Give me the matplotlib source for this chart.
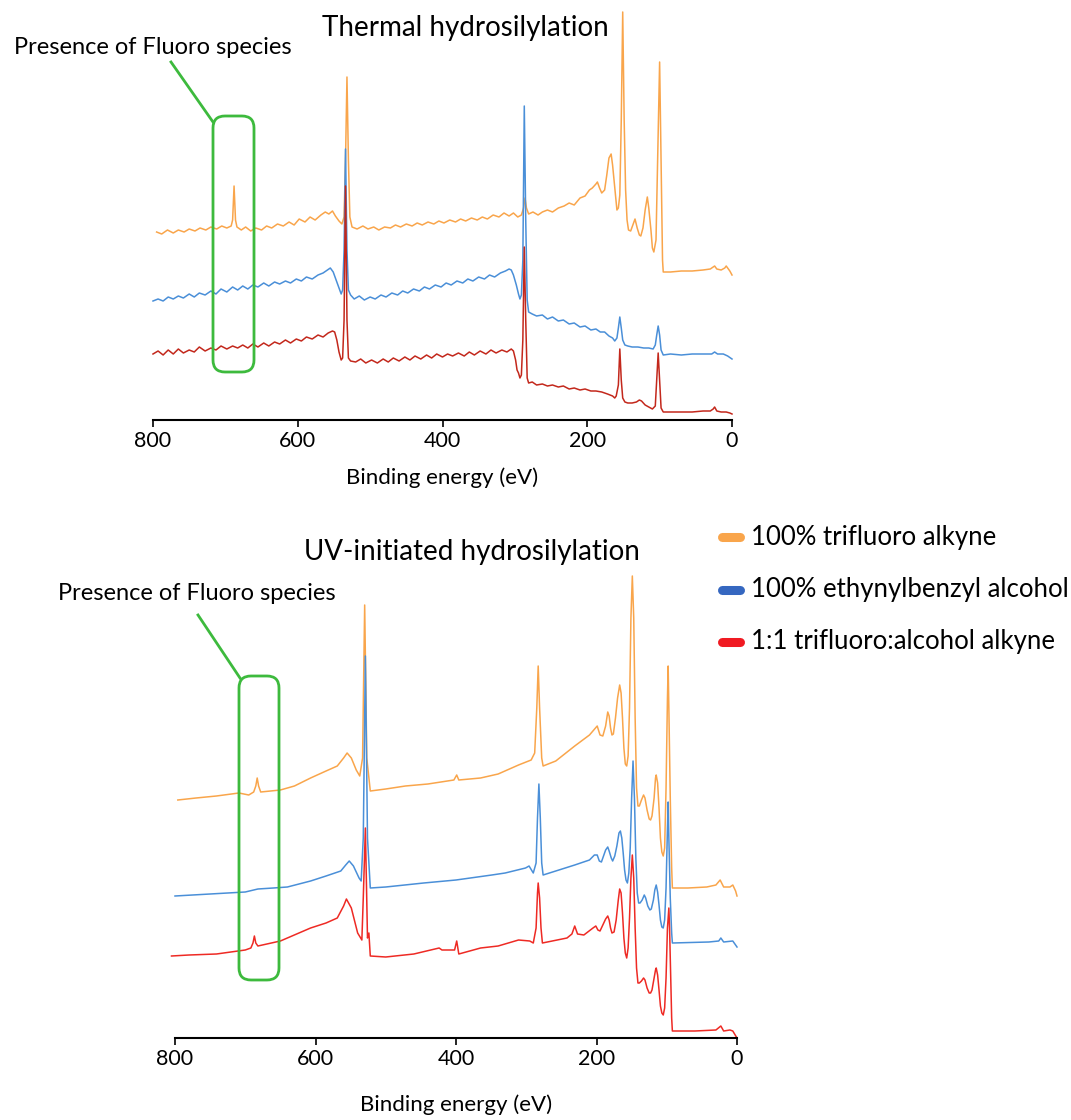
import numpy as np
import matplotlib
matplotlib.use("Agg")
import matplotlib.pyplot as plt
from matplotlib.patches import FancyBboxPatch

plt.rcParams["font.family"] = ["Lato", "DejaVu Sans"]

# ── Spectra: (binding energy [eV], intensity [a.u.]) ──────────────────────────────
# Thermal hydrosilylation
thermal_tfa = [
    (795, 188), (788, 186), (780, 190), (772, 187), (765, 190), (757, 188), (750, 191),
    (742, 189), (735, 192), (727, 190), (720, 193), (712, 191), (705, 194), (698, 192),
    (692, 194), (690, 200), (688, 234), (686, 200), (684, 193), (678, 190), (672, 193),
    (665, 189), (658, 192), (650, 190), (643, 194), (636, 192), (628, 196), (620, 194),
    (612, 198), (605, 195), (598, 201), (590, 198), (583, 203), (576, 200), (568, 205),
    (562, 208), (557, 206), (552, 209), (548, 204), (543, 199), (539, 196), (536, 203),
    (534, 260), (532, 343), (530, 260), (528, 203), (525, 193), (518, 191), (510, 194),
    (503, 191), (495, 193), (488, 190), (480, 193), (472, 192), (465, 195), (458, 193),
    (450, 196), (442, 194), (435, 197), (428, 195), (420, 198), (412, 196), (405, 199),
    (398, 197), (390, 200), (382, 198), (375, 201), (368, 199), (360, 202), (352, 200),
    (345, 203), (338, 201), (330, 205), (322, 203), (315, 207), (308, 204), (302, 207),
    (296, 203), (291, 205), (288, 212), (286, 222), (284, 212), (281, 206), (275, 208),
    (268, 205), (262, 208), (255, 210), (248, 208), (240, 212), (232, 214), (225, 217),
    (218, 215), (210, 222), (203, 224), (197, 230), (193, 232), (188, 236), (186, 238),
    (183, 232), (180, 227), (176, 230), (173, 245), (170, 262), (167, 266), (165, 255),
    (162, 232), (159, 210), (157, 212), (155, 225), (153, 300), (151, 408), (149, 300),
    (147, 230), (145, 200), (143, 190), (140, 189), (137, 195), (134, 201), (131, 192),
    (128, 185), (126, 184), (123, 192), (120, 210), (117, 223), (115, 212), (112, 190),
    (110, 172), (108, 168), (105, 180), (103, 250), (100, 358), (98, 260), (96, 160),
    (95, 148), (85, 148), (70, 149), (55, 149), (40, 150), (30, 151), (26, 153),
    (24, 154), (21, 151), (15, 150), (10, 152), (8, 154), (5, 151), (3, 149), (0, 145),
]
thermal_alc = [
    (800, 119), (793, 121), (786, 119), (779, 123), (772, 121), (765, 124), (758, 122),
    (750, 126), (743, 123), (736, 127), (728, 125), (720, 129), (713, 126), (706, 131),
    (698, 128), (690, 133), (683, 130), (676, 134), (669, 131), (662, 135), (655, 133),
    (647, 137), (640, 134), (632, 138), (625, 136), (617, 139), (610, 137), (602, 141),
    (595, 139), (588, 143), (580, 141), (572, 145), (565, 147), (559, 150), (555, 152),
    (551, 148), (547, 140), (543, 132), (540, 126), (538, 130), (536, 170), (534, 271),
    (532, 170), (530, 130), (527, 125), (522, 121), (515, 124), (508, 120), (500, 123),
    (493, 121), (485, 125), (478, 123), (470, 127), (462, 125), (455, 129), (448, 127),
    (440, 131), (432, 129), (425, 133), (418, 131), (410, 135), (402, 133), (395, 137),
    (388, 135), (380, 139), (372, 137), (365, 141), (358, 139), (350, 143), (342, 141),
    (335, 145), (328, 143), (320, 147), (313, 149), (308, 151), (305, 150), (302, 145),
    (298, 135), (295, 126), (293, 121), (291, 125), (289, 160), (287, 314), (285, 200),
    (283, 120), (281, 108), (276, 106), (270, 104), (262, 105), (255, 101), (248, 103),
    (240, 99), (233, 100), (225, 96), (218, 97), (210, 93), (203, 94), (195, 90),
    (188, 91), (182, 88), (176, 88), (170, 84), (165, 82), (162, 79), (159, 82),
    (157, 92), (155, 103), (153, 92), (151, 80), (148, 75), (144, 74), (138, 73),
    (130, 73), (122, 72), (115, 72), (109, 71), (106, 75), (104, 85), (102, 94),
    (100, 85), (98, 70), (95, 65), (85, 66), (70, 65), (55, 66), (40, 66), (28, 66),
    (24, 68), (20, 66), (12, 66), (6, 64), (0, 61),
]
thermal_mix = [
    (800, 66), (793, 69), (786, 65), (779, 70), (772, 66), (765, 71), (758, 67),
    (750, 70), (743, 68), (736, 73), (728, 69), (720, 72), (713, 70), (706, 74),
    (698, 71), (690, 74), (683, 72), (676, 75), (669, 72), (662, 76), (655, 73),
    (647, 77), (640, 74), (632, 78), (625, 76), (617, 80), (610, 77), (602, 81),
    (595, 79), (588, 83), (580, 81), (572, 85), (565, 83), (558, 87), (552, 89),
    (549, 88), (546, 80), (543, 68), (540, 60), (538, 62), (536, 100), (534, 234),
    (532, 100), (530, 62), (527, 59), (520, 58), (513, 61), (506, 57), (498, 60),
    (490, 57), (482, 61), (475, 58), (468, 62), (460, 59), (452, 63), (445, 60),
    (438, 64), (430, 61), (422, 65), (415, 62), (408, 66), (400, 63), (393, 66),
    (386, 64), (378, 67), (370, 64), (363, 68), (356, 65), (348, 69), (340, 66),
    (333, 70), (326, 67), (318, 70), (311, 68), (305, 71), (302, 69), (299, 60),
    (297, 50), (295, 47), (293, 42), (291, 45), (289, 80), (287, 173), (285, 100),
    (283, 42), (281, 37), (276, 38), (270, 35), (262, 36), (255, 34), (248, 35),
    (240, 33), (233, 34), (225, 31), (218, 32), (210, 30), (203, 31), (195, 29),
    (188, 29), (180, 28), (172, 26), (165, 24), (162, 22), (160, 24), (157, 35),
    (155, 71), (153, 40), (151, 22), (148, 18), (144, 17), (138, 17), (132, 18),
    (128, 20), (125, 19), (120, 15), (115, 13), (110, 11), (106, 14), (104, 40),
    (102, 67), (100, 40), (98, 12), (95, 8), (85, 8), (70, 8), (55, 8), (40, 9),
    (30, 9), (26, 11), (24, 13), (21, 9), (15, 8), (8, 8), (3, 7), (0, 6),
]

# UV-initiated hydrosilylation
uv_tfa = [
    (796, 238), (770, 240), (741, 242), (709, 245), (695, 243), (688, 246), (685, 252),
    (683, 260), (681, 252), (678, 246), (650, 248), (630, 252), (607, 260), (585, 267),
    (569, 272), (560, 280), (555, 285), (549, 280), (542, 268), (537, 262), (533, 280),
    (530, 433), (527, 280), (522, 247), (500, 249), (472, 252), (440, 254), (403, 258),
    (399, 263), (396, 258), (365, 260), (340, 264), (311, 273), (293, 278), (288, 285),
    (285, 330), (283, 372), (281, 330), (278, 280), (276, 272), (258, 277), (231, 292),
    (210, 303), (199, 312), (195, 303), (191, 302), (187, 312), (184, 326), (182, 322),
    (180, 310), (178, 303), (176, 304), (173, 320), (170, 340), (167, 353), (165, 345),
    (163, 320), (161, 290), (159, 274), (157, 272), (155, 282), (153, 330), (151, 420),
    (149, 462), (147, 420), (145, 320), (143, 250), (141, 232), (139, 232), (136, 238),
    (133, 243), (131, 240), (128, 228), (125, 219), (123, 218), (121, 222), (118, 240),
    (116, 260), (115, 263), (113, 255), (111, 230), (109, 200), (107, 186), (105, 182),
    (103, 190), (101, 250), (99, 340), (98, 372), (97, 330), (95, 240), (93, 170),
    (92, 150), (70, 150), (43, 151), (30, 153), (24, 158), (19, 151), (10, 151),
    (6, 153), (2, 147), (0, 142),
]
uv_alc = [
    (800, 142), (750, 144), (700, 146), (682, 149), (660, 150), (640, 151), (607, 157),
    (585, 162), (564, 167), (557, 173), (552, 177), (546, 172), (538, 160), (535, 157),
    (532, 200), (529, 382), (526, 200), (522, 150), (500, 151), (446, 155), (400, 158),
    (349, 163), (330, 165), (301, 170), (296, 172), (290, 165), (286, 175), (284, 220),
    (282, 254), (280, 220), (278, 175), (276, 163), (231, 173), (210, 178), (203, 183),
    (199, 183), (196, 177), (193, 176), (190, 182), (187, 188), (184, 191), (182, 187),
    (179, 180), (177, 177), (174, 182), (171, 192), (168, 205), (166, 207), (164, 200),
    (162, 185), (160, 168), (158, 158), (156, 155), (154, 165), (152, 190), (150, 240),
    (148, 277), (146, 240), (144, 180), (142, 145), (140, 135), (138, 135), (135, 138),
    (132, 143), (130, 140), (127, 132), (124, 128), (122, 129), (119, 138), (117, 148),
    (115, 153), (113, 146), (111, 133), (109, 118), (107, 111), (105, 110), (103, 118),
    (101, 150), (99, 210), (98, 236), (97, 200), (95, 140), (93, 105), (92, 95),
    (40, 96), (26, 97), (23, 100), (19, 96), (6, 97), (0, 91),
]
uv_mix = [
    (805, 82), (780, 83), (741, 84), (700, 88), (692, 90), (689, 95), (687, 102),
    (685, 95), (682, 92), (650, 97), (607, 110), (585, 115), (569, 120), (560, 132),
    (556, 139), (549, 130), (540, 105), (534, 98), (532, 140), (529, 210), (526, 100),
    (524, 105), (522, 82), (500, 81), (460, 84), (424, 90), (420, 88), (402, 88),
    (399, 97), (396, 84), (365, 90), (340, 92), (311, 98), (295, 97), (290, 95),
    (286, 110), (284, 145), (283, 155), (281, 140), (279, 110), (277, 95), (242, 100),
    (235, 104), (231, 112), (227, 104), (218, 103), (205, 110), (201, 112), (198, 108),
    (195, 107), (191, 113), (187, 119), (184, 122), (182, 118), (180, 110), (178, 105),
    (175, 106), (172, 118), (169, 138), (167, 149), (165, 145), (163, 125), (161, 100),
    (159, 85), (157, 80), (155, 90), (153, 120), (151, 160), (149, 183), (147, 160),
    (145, 110), (143, 70), (141, 55), (139, 55), (136, 57), (133, 60), (131, 58),
    (128, 50), (125, 45), (123, 45), (121, 48), (118, 60), (116, 68), (115, 70),
    (113, 63), (111, 48), (109, 32), (107, 25), (105, 23), (103, 30), (101, 60),
    (99, 110), (97, 130), (96, 110), (94, 50), (93, 20), (92, 7), (60, 7), (30, 8),
    (23, 12), (19, 7), (10, 8), (6, 7), (0, 0),
]

labels = ["100% trifluoro alkyne", "100% ethynylbenzyl alcohol",
          "1:1 trifluoro:alcohol alkyne"]
xticks = [800, 600, 400, 200, 0]

C_OR = "#f9a54b"
C_BL = "#4a8fd8"
C_RD_T = "#c3281c"
C_RD_B = "#ee2a24"
C_GR = "#3dba3d"

W, H = 1071, 1120
fig = plt.figure(figsize=(W / 100, H / 100), dpi=100)


def px_axes(x0, x1, ytop, ybot):
    return fig.add_axes([x0 / W, 1 - ybot / H, (x1 - x0) / W, (ybot - ytop) / H])


def style(ax, height):
    ax.set_xlim(800, 0)
    ax.set_ylim(0, height)
    for s in ("left", "right", "top"):
        ax.spines[s].set_visible(False)
    ax.spines["bottom"].set_linewidth(1.5)
    ax.set_yticks([])
    ax.set_xticks(xticks)
    ax.tick_params(axis="x", length=5, width=1.2, labelsize=15.5, pad=3)
    ax.set_facecolor("none")


ax1 = px_axes(153, 732, 0, 420)
for data, c in [(thermal_tfa, C_OR), (thermal_alc, C_BL), (thermal_mix, C_RD_T)]:
    e, i = zip(*data)
    ax1.plot(e, i, color=c, lw=1.1, clip_on=False)
style(ax1, 420)
ax1.set_xlabel("Binding energy (eV)", fontsize=16, labelpad=12)

ax2 = px_axes(175, 737, 560, 1038)
for data, c in [(uv_tfa, C_OR), (uv_alc, C_BL), (uv_mix, C_RD_B)]:
    e, i = zip(*data)
    ax2.plot(e, i, color=c, lw=1.1, clip_on=False)
style(ax2, 478)
ax2.set_xlabel("Binding energy (eV)", fontsize=16, labelpad=18)

# ── Overlay in pixel coordinates for titles, annotations and legend ─────────────
ov = fig.add_axes([0, 0, 1, 1], zorder=5)
ov.set_xlim(0, W)
ov.set_ylim(H, 0)
ov.axis("off")
ov.patch.set_alpha(0)

ov.text(465, 28, "Thermal hydrosilylation", fontsize=20, ha="center", va="center")
ov.text(472, 552, "UV-initiated hydrosilylation", fontsize=20, ha="center", va="center")

for tx, ty, (lx0, ly0, lx1, ly1), (bx0, by0, bx1, by1) in [
    (153, 47, (171, 62, 213, 122), (213, 116, 254, 372)),
    (197, 594, (198, 615, 240, 678), (239, 676, 279, 980)),
]:
    ov.text(tx, ty, "Presence of Fluoro species", fontsize=17, ha="center", va="center")
    ov.plot([lx0, lx1], [ly0, ly1], color=C_GR, lw=2)
    ov.add_patch(FancyBboxPatch((bx0, by0), bx1 - bx0, by1 - by0,
                                boxstyle="round,pad=0,rounding_size=12",
                                fill=False, ec=C_GR, lw=2))

for y, c, lab in zip([537, 590, 642], ["#f9a54b", "#3567c0", "#f01a22"], labels):
    ov.plot([722, 740], [y, y], color=c, lw=6.5, solid_capstyle="round")
    ov.text(751, y, lab, fontsize=18.5, ha="left", va="center")

fig.savefig("out.png", dpi=100)
